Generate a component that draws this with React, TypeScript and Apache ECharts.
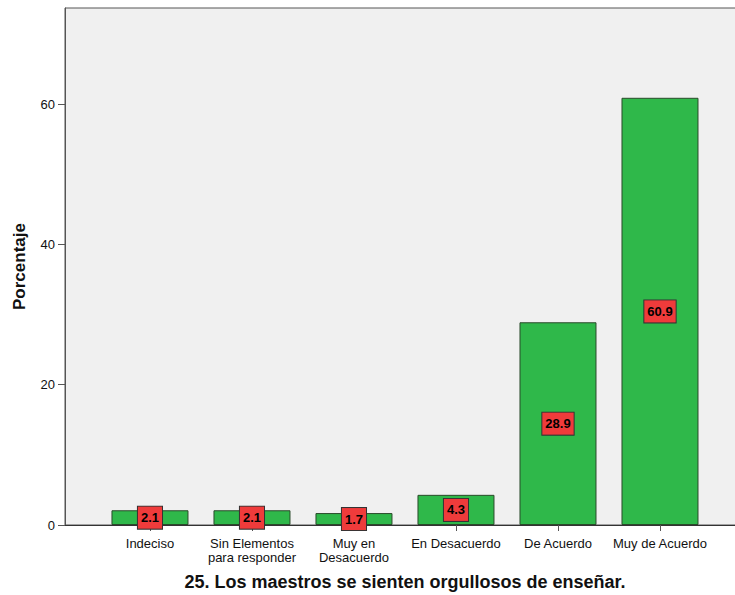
import React, { useEffect, useRef } from "react";
import * as echarts from "echarts";

const categories = [
  "Indeciso",
  "Sin Elementos\npara responder",
  "Muy en\nDesacuerdo",
  "En Desacuerdo",
  "De Acuerdo",
  "Muy de Acuerdo",
];
const values = [2.1, 2.1, 1.7, 4.3, 28.9, 60.9];
const yTicks = [0, 20, 40, 60];
const xTitle = "25. Los maestros se sienten orgullosos de enseñar.";
const yTitle = "Porcentaje";

export default function App() {
  const ref = useRef<HTMLDivElement>(null);
  useEffect(() => {
    if (!ref.current) return;
    const chart = echarts.init(ref.current, null, { renderer: "svg" });
    const idx = categories.map((_, i) => i);
    chart.setOption({
      animation: false,
      grid: {
        left: 65,
        top: 8,
        width: 690,
        bottom: 70,
        outerBoundsMode: "none",
        containLabel: false,
        show: true,
        backgroundColor: "#f0f0f0",
        borderColor: "#555",
        borderWidth: 1,
      },
      xAxis: {
        type: "value",
        min: -0.833,
        max: 5.9314,
        axisLine: { show: true, onZero: false, lineStyle: { color: "#333", width: 1 } },
        axisTick: { show: true, customValues: idx, length: 6, lineStyle: { color: "#555" } },
        axisLabel: {
          customValues: idx,
          formatter: (v: number) => categories[Math.round(v)] ?? "",
          color: "#111",
          fontFamily: "Liberation Sans, Arial, sans-serif",
          fontSize: 13,
          lineHeight: 14,
          margin: 11,
        },
        splitLine: { show: false },
      },
      yAxis: {
        type: "value",
        min: 0,
        max: 73.7,
        axisLine: { show: true, onZero: false, lineStyle: { color: "#555", width: 1 } },
        axisTick: { show: true, customValues: yTicks, length: 7, lineStyle: { color: "#555" } },
        axisLabel: {
          customValues: yTicks,
          color: "#111",
          fontFamily: "Liberation Sans, Arial, sans-serif",
          fontSize: 13,
          margin: 10,
        },
        splitLine: { show: false },
        name: yTitle,
        nameLocation: "middle",
        nameGap: 37,
        nameTextStyle: {
          fontWeight: "bold",
          fontSize: 17,
          color: "#111",
          fontFamily: "Liberation Sans, Arial, sans-serif",
        },
      },
      series: [
        {
          type: "bar",
          barWidth: 77,
          data: values.map((v, i) => [i, v]),
          itemStyle: { color: "#2fb84a", borderColor: "#2a4a2a", borderWidth: 1 },
          label: {
            show: true,
            position: "inside",
            formatter: (p: any) => p.value[1].toFixed(1),
            color: "#000",
            fontWeight: "bold",
            fontSize: 13,
            fontFamily: "Liberation Sans Narrow, Arial Narrow, Liberation Sans, sans-serif",
            backgroundColor: "#ef3b3b",
            borderColor: "#333",
            borderWidth: 1,
            padding: [5, 3, 4, 3],
          },
        },
      ],
      graphic: [
        {
          type: "text",
          x: 405,
          y: 582,
          style: {
            text: xTitle,
            fontWeight: "bold",
            fontSize: 18,
            fill: "#111",
            align: "center",
            verticalAlign: "middle",
            fontFamily: "Liberation Sans, Arial, sans-serif",
          },
        },
      ],
    });
    return () => chart.dispose();
  }, []);
  return (
    <div
      ref={ref}
      style={{ position: "fixed", left: 0, top: 0, width: 735, height: 595, background: "#fff", overflow: "hidden" }}
    />
  );
}
